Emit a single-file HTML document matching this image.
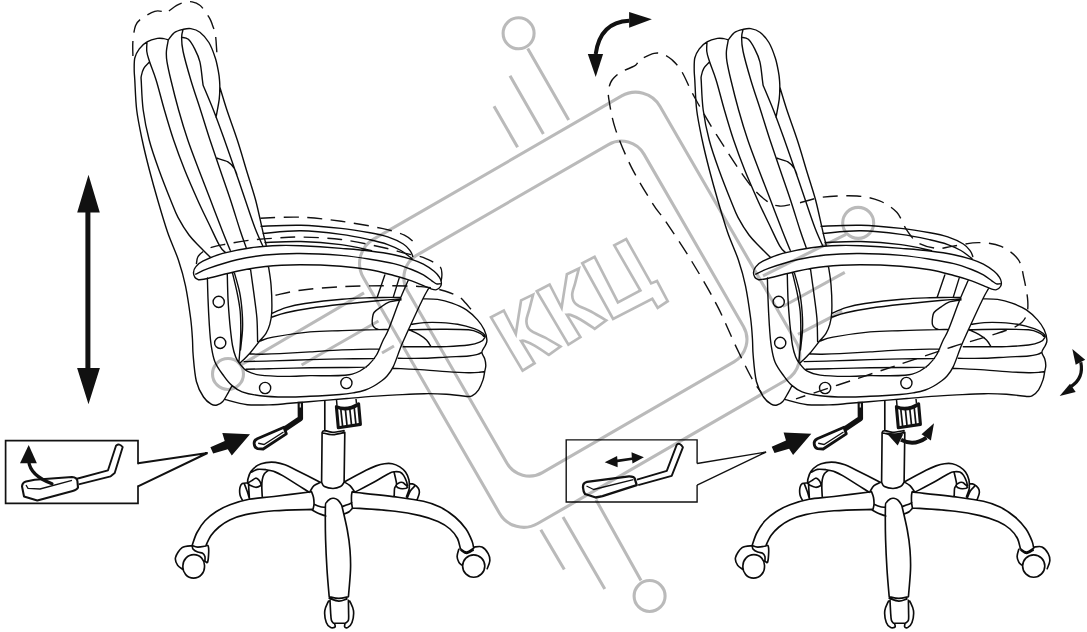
<!DOCTYPE html>
<html><head><meta charset="utf-8"><title>chair</title>
<style>
html,body{margin:0;padding:0;background:#fff;}
body{width:1087px;height:632px;overflow:hidden;font-family:"Liberation Sans",sans-serif;}
svg{display:block;}
</style></head><body>
<svg width="1087" height="632" viewBox="0 0 1087 632">
<rect width="1087" height="632" fill="#fff"/>
<defs><g id="chair">
<path d="M168.3 39.9C167.6 39.7 165.6 38.9 163.8 38.6C162 38.4 160.2 37.9 157.4 38.4C154.6 38.9 150 40.1 147 41.9C144 43.6 141.3 46.2 139.3 48.9C137.3 51.6 135.7 54.5 134.8 58C134 61.5 134.2 66.3 134.2 70C134.2 73.7 134.4 73.3 134.8 80C135.2 86.7 135.5 100 136.7 110C137.9 120 140.1 130 142.2 140C144.3 150 146.8 160 149.4 170C152 180 154.7 189.7 157.7 200C160.7 210.3 164.1 222 167.5 232C170.9 242 175.4 251 178.4 260C181.4 269 183.5 276.1 185.5 285.8C187.5 295.5 189.4 309 190.6 318C191.8 327 192.1 333.7 192.5 340C192.9 346.3 192.5 348.9 193.2 355.8C193.8 362.7 194.7 374.6 196.4 381.5C198.1 388.4 201 393.2 203.5 397C206 400.8 208.9 402.8 211.2 404.1C213.4 405.4 215.1 405.4 217 405C218.9 404.6 221 403.5 222.8 401.5C224.6 399.5 226.5 395.7 228 393.1C229.5 390.5 231.2 387.2 231.8 386M149.6 61.8C148.6 62.9 145.2 65.9 143.8 68.3C142.4 70.7 141.7 73.7 141.3 76C140.9 78.3 141 76.3 141.3 82C141.6 87.7 141.9 100.3 143.2 110C144.5 119.7 146.6 130 149.2 140C151.8 150 155.4 160 159 170C162.6 180 167.4 192.1 170.6 200C173.8 207.9 174.9 211.6 178 217.4C181.1 223.2 185.3 230.1 189 235C192.7 239.9 196.4 243.2 200 247C203.6 250.8 208.8 255.8 210.5 257.5M147 41.9C147 43.5 146.4 48.2 146.8 51.5C147.2 54.8 148.1 57 149.6 61.8C151.1 66.5 153.6 72 156.1 80C158.6 88 161.5 100 164.4 110C167.3 120 170.2 130 173.6 140C177 150 180.7 160 184.7 170C188.7 180 193.5 190.8 197.6 200C201.7 209.2 205.8 217.3 209.5 225C213.2 232.7 217 241.3 219.7 245.9C222.3 250.5 224.4 251.4 225.4 252.5M168.3 39.9C168 41.8 166.6 47.9 166.4 51.5C166.2 55.1 166.2 57 167 61.8C167.8 66.5 169 72 170.9 80C172.8 88 175.8 100 178.6 110C181.4 120 184.4 130 187.8 140C191.2 150 195.1 160 198.9 170C202.7 180 206.7 190 210.5 200C214.3 210 218.7 221.6 222 230C225.3 238.4 228.8 246.9 230.2 250.3M183.1 29.4C182.8 30.7 181.6 33.7 181.6 37.4C181.6 41.1 181.6 44.4 183.1 51.5C184.6 58.6 187.9 70.2 190.8 80C193.7 89.8 197.3 100 200.5 110C203.7 120 206.7 130 210 140C213.3 150 216.8 160 220.2 170C223.6 180 227.2 190 230.5 200C233.8 210 237.4 222.1 240 230C242.6 237.9 245.2 244.8 246.2 247.7M181.6 37.4C182.7 37.7 186.1 37.4 188.3 39.3C190.5 41.2 192.8 45.1 194.7 48.9C196.6 52.6 198.6 56.6 199.9 61.8C201.2 67 201.9 76.1 202.4 80C202.9 83.9 203 84.3 203.1 85.2M203.1 85.2C204.8 89.3 209.8 100.9 213.4 110C217 119.1 220.9 130 224.5 140C228.1 150 231.5 160 235 170C238.5 180 242 190.3 245.3 200C248.6 209.7 252.1 220.4 255 228C257.9 235.6 261.3 242.7 262.6 245.6M168.3 39.9C169.3 38.7 171.6 34.5 174.1 32.8C176.6 31 180.3 30.1 183.1 29.4C185.9 28.7 188 28.1 190.8 28.6C193.6 29.1 196.9 29.9 199.9 32.2C202.9 34.5 206.3 38.2 208.9 42.5C211.5 46.8 213.7 53.1 215.3 58C216.9 62.9 217.8 68.4 218.5 72.1C219.2 75.8 219.3 77.4 219.5 80C219.7 82.6 219.9 84.5 219.8 87.7C219.8 90.9 219.8 94.3 219.2 99.3C218.6 104.2 216.5 114.4 216 117.4M219.8 87C221 90.8 224 101.2 226.9 110C229.8 118.8 234.1 130 237.3 140C240.6 150 243.4 160 246.4 170C249.4 180 252.8 189.7 255.6 200C258.3 210.3 261.1 224.3 262.9 231.8C264.6 239.3 265.6 242.7 266.1 244.9M216.3 158C218.2 158.7 224.9 160.2 227.9 161.9C230.9 163.6 232.8 166.2 234.3 168.3C235.8 170.5 236.5 173.7 236.9 174.8M207.4 278C207.5 281.4 207.7 290.9 208 298.6C208.3 306.3 208.8 316.6 209.3 324.4C209.8 332.2 210.2 339.2 211.2 345.5C212.2 351.8 212.9 357.1 215.1 362.2C217.2 367.3 221.3 372.5 224.1 376.4C226.9 380.3 228.8 382.8 231.8 385.4C234.8 388 237.4 390.1 242.1 391.8C246.8 393.5 252.9 394.8 260.2 395.7C267.5 396.6 277.6 396.9 285.9 397C294.2 397.1 301 396.7 310 396.3C319 395.9 332.5 395.1 340 394.5C347.5 393.9 350.8 393.2 355 392.5C359.2 391.8 362.3 391 365.3 390C368.3 389 370.6 387.8 373 386.5C375.4 385.2 377.7 383.7 380 382C382.3 380.3 384.4 379.1 386.6 376.5C388.8 373.9 390.9 371.6 393.3 366.6C395.7 361.6 398.5 352.7 401 346.6C403.5 340.5 404.8 337.8 408.3 330C411.9 322.2 419 306.8 422.3 300C425.6 293.2 427.2 290.9 428.2 289.1M227.3 274.2C227.4 278.3 227.6 290.2 228 298.6C228.4 307 229.2 316.6 229.9 324.4C230.7 332.2 231.5 340.1 232.5 345.5C233.5 350.9 234.5 354 235.7 357C236.9 360 237.7 361.1 239.6 363.5C241.5 365.9 243.9 369.3 247.3 371.2C250.7 373.1 253.8 374.2 260.2 375.1C266.6 376 277.6 376.3 285.9 376.4C294.2 376.5 302.6 375.7 310 375.6C317.4 375.5 324.2 375.9 330 375.8C335.8 375.8 341.3 375.6 345 375.3C348.7 375 349.7 374.9 352.2 374.2C354.7 373.5 357.3 372.5 360 371C362.7 369.5 365.6 367.8 368.4 365.1C371.1 362.4 374.1 359.1 376.5 355C378.9 350.9 381 344.7 383 340.5C385 336.3 385.5 336.7 388.3 330C391.1 323.3 396.3 308.5 399.6 300.3C402.9 292.1 406.6 284.1 408 280.8M232.5 272.9C233.2 276.1 235.7 285.8 237 292.2C238.3 298.6 239.6 305.1 240.2 311.5C240.8 317.9 240.8 325.1 240.8 330.8C240.8 336.5 240.5 340.3 240.2 345.5C239.9 350.7 239.1 359.4 238.9 362.2M234.4 272.9C235.3 276.1 238.3 285.8 239.6 292.2C240.9 298.6 241.6 305.2 242.1 311.5C242.6 317.8 242.8 323.6 242.5 330C242.2 336.4 240.8 346.7 240.5 350M250.5 269C251 272.9 252.6 284 253.7 292.2C254.8 300.4 256.2 309.8 256.9 318C257.5 326.2 257.5 337.7 257.6 341.6M268.5 266.4C268.9 269.6 270.6 278.3 271.1 285.8C271.7 293.3 272 305.1 271.8 311.5C271.6 317.9 270.8 320.8 269.8 324.4C268.8 328 267.6 330.8 266 333.4C264.4 336 262.9 337 260.2 340.3C257.5 343.6 253.3 349.3 249.9 353.2C246.5 357.1 241.3 361.8 239.6 363.5M271.8 313.5C274.1 312.5 280.4 309.4 285.9 307.7C291.4 306 295.6 304.9 305 303.5C314.4 302.1 331.2 300.1 342 299.2C352.8 298.2 360.2 298.1 370 297.8C379.8 297.5 395.8 297.2 401 297.1M271.1 317.3C273.6 316.6 279.4 314.3 285.9 312.8C292.4 311.3 300.6 309.7 310 308.3C319.4 306.9 330.3 305.6 342 304.3C353.7 303 370.2 301.4 380 300.5C389.8 299.6 397.5 299.1 401 298.8M401 299.9C399 300.3 392.4 300.8 388.9 302.1C385.4 303.4 382.5 306 380 307.7C377.5 309.4 375.2 310.8 374 312.5C372.8 314.2 372.8 316 372.5 318C372.2 320 372.1 322.9 372.5 324.6C372.9 326.3 374 327.2 375 328C376 328.8 377.9 329.3 378.5 329.6M260.2 341C262.3 340.4 264.7 338.6 273 337.1C281.3 335.6 298.5 333 310 331.9C321.5 330.8 330.6 331 342 330.6C353.4 330.2 370.8 329.8 378.5 329.6C386.2 329.4 386.8 329.6 388.5 329.6M250 354C252 354 257 354.3 262 354.2C267 354.1 272 354 280 353.6C288 353.2 299.7 352.5 310 351.9C320.3 351.3 330.4 350.4 342 349.9C353.6 349.4 373.3 349.1 379.6 348.9M244.1 361.6C248.9 361.5 262 361.2 273 360.9C284 360.6 298.5 359.9 310 359.6C321.5 359.3 331.2 359.1 342 358.9C352.8 358.7 369.1 358.7 374.5 358.6M246 369.3C250.5 369.2 262.3 368.9 273 368.6C283.7 368.4 298.5 368 310 367.8C321.5 367.6 332.6 367.6 342 367.5C351.4 367.4 362.3 367.2 366.4 367.1M423.8 298.8C426.1 298.9 432.9 298.7 437.6 299.4C442.3 300.1 447.2 301.4 452 303.2C456.8 304.9 462.1 307.1 466.4 309.9C470.6 312.7 474.5 316.6 477.5 319.9C480.5 323.2 482.6 326.4 484.2 329.8C485.8 333.2 486.7 337.4 486.9 340C487.1 342.6 486.1 343.5 485.3 345.5C484.5 347.5 482 350 481.9 352.2C481.8 354.4 484 356.6 484.7 358.8C485.4 361 485.8 363.4 485.8 365.5C485.8 367.6 485.2 369.2 484.7 371.6C484.2 374 484 376.9 483 379.9C482 382.9 480.4 387.1 478.6 389.8C476.8 392.5 473.9 394.8 472 395.9C470.1 397 468.2 396.4 467.5 396.5M411.6 324.3C413.7 324 419.4 322.9 424.3 322.6C429.2 322.3 435.3 322.3 440.9 322.6C446.4 322.9 452.1 323.3 457.6 324.3C463.2 325.3 470 327.2 474.2 328.7C478.4 330.2 481.2 331.8 483 333.3C484.8 334.8 485.2 336.3 484.7 337.8C484.1 339.3 482.4 341 479.7 342.2C477 343.4 474.1 344.3 468.6 345C463.1 345.7 452.8 346.3 446.5 346.6C440.2 346.9 438.2 346.8 431 346.8C423.8 346.8 407.9 346.8 403.3 346.8M409.4 329.8C414.6 329.7 431 329.3 440.9 329.3C450.8 329.3 462.1 329.2 468.6 329.8C475.1 330.4 477.1 332.1 479.7 333.2C482.3 334.3 483.3 335.9 484 336.5M409.4 330C411 330.7 415.9 332.7 418.8 334.4C421.7 336.1 424.5 338 426.5 340C428.5 342 430.2 345.5 431 346.6M398.3 358.3C402.6 358.3 416.3 358.5 424.3 358.3C432.3 358.1 439.1 357.5 446.5 357.1C453.9 356.7 463.4 356.4 468.6 356C473.8 355.6 475.3 355 477.5 354.4C479.7 353.8 481.2 352.6 481.9 352.2M392.7 368.2C398 368.5 415.3 369.3 424.3 369.9C433.3 370.5 439.1 371.1 446.5 371.6C453.9 372.1 463.1 372.6 468.6 372.7C474.1 372.8 477 372.5 479.7 372.3C482.4 372.1 483.9 371.7 484.7 371.6M225.4 399.6C229.1 400.5 239.4 403.9 247.3 404.7C255.2 405.5 265.9 404.9 273 404.7C280.1 404.5 282.4 403.9 290 403.3C297.6 402.7 309 401.7 318.5 400.9C328 400.1 336.8 399.3 347 398.5C357.2 397.7 370.8 396.5 380 395.9C389.2 395.2 394.8 395 402.2 394.6C409.6 394.2 416.9 393.8 424.3 393.7C431.7 393.6 439.3 393.8 446.5 394.3C453.7 394.8 464 396.1 467.5 396.5M198.5 279.8C197.9 279.4 195.8 278.7 195 277.5C194.2 276.3 193.4 274.4 193.5 272.6C193.6 270.8 194.1 268.8 195.7 266.9C197.2 265 198.3 263.4 202.8 261.2C207.3 258.9 214.6 255.7 222.7 253.4C230.8 251.2 241.7 249 251.2 247.7C260.7 246.4 271.3 245.8 279.6 245.5C287.9 245.2 290.6 245.3 300.8 245.8C311 246.3 329.5 247.5 341 248.4C352.5 249.3 361.2 249.9 370 251C378.8 252.1 386.9 253.3 393.8 254.7C400.7 256.1 406.7 257.8 411.6 259.4C416.5 261 419.6 262.2 423.4 264.2C427.1 266.2 431.4 269.1 434.1 271.3C436.8 273.5 438.3 275.5 439.5 277.3C440.7 279.1 441.1 280.5 441.3 282C441.5 283.5 441.3 285.2 440.5 286.5C439.7 287.8 437.9 289.3 436.5 289.7C435.1 290.1 434 289.8 431.8 289.1C429.6 288.4 426.8 287 423.4 285.6C420 284.2 416.5 282.5 411.6 280.8C406.7 279.1 400.7 277.3 393.8 275.5C386.9 273.7 378.8 271.4 370 269.8C361.2 268.2 352.7 267 341 266.2C329.3 265.4 312.6 264.8 300 264.8C287.4 264.9 275.9 265.4 265.4 266.5C254.9 267.6 246.4 269.2 236.9 271.2C227.4 273.2 214.9 276.9 208.5 278.3C202.1 279.7 200.2 279.6 198.5 279.8M195.7 274.1C197.8 273.2 201.6 270.8 208.5 268.4C215.4 266 227.4 262 236.9 259.8C246.4 257.6 254.9 256.1 265.4 255C275.9 253.9 287.4 253.4 300 253.5C312.6 253.6 329.3 254.5 341 255.4C352.7 256.4 361.2 257.8 370 259.2C378.8 260.6 386.9 261.9 393.8 263.6C400.7 265.3 406.7 267.6 411.6 269.5C416.5 271.4 420 273 423.4 274.9C426.8 276.8 429.6 279.3 431.8 280.8C434 282.3 435.1 283.3 436.5 283.8C437.9 284.3 439.4 283.8 440 283.8M261 226.3C267.6 226.1 287.5 225 300.8 225.3C314.1 225.7 329.5 227.2 341 228.4C352.5 229.6 362.2 231.3 370 232.7C377.8 234.1 382.2 235 387.8 236.9C393.4 238.8 399.5 241.6 403.3 244C407.1 246.4 408.8 249 410.4 251.1C412 253.2 412.4 255.6 412.8 256.5M263 233.4C269.3 233 287.8 230.6 300.8 230.8C313.8 231 329.5 232.9 341 234.4C352.5 235.9 362.2 238.1 370 239.8C377.8 241.5 382.7 242.8 387.8 244.6C392.9 246.4 397.3 248.5 400.9 250.5C404.5 252.5 407.3 255.2 409.2 256.5C411.1 257.8 411.5 258.2 412 258.5M265 242.5C271 242.3 288.1 241.2 300.8 241.5C313.5 241.8 329.2 243.1 341 244.6C352.8 246.1 366.6 249.6 371.7 250.6M384.8 274.9L377.1 297.4M399.1 278.4L393.2 297.4M213.1 301.9a5.6 5.6 0 1 0 11.2 0a5.6 5.6 0 1 0 -11.2 0M214.6 342.9a5.6 5.6 0 1 0 11.2 0a5.6 5.6 0 1 0 -11.2 0M259.5 388a5.6 5.6 0 1 0 11.2 0a5.6 5.6 0 1 0 -11.2 0M340.8 383a5.6 5.6 0 1 0 11.2 0a5.6 5.6 0 1 0 -11.2 0" fill="none" stroke="#0c0c0c" stroke-width="1.4" stroke-linecap="round" stroke-linejoin="round"/>
<path d="M322.1 433C322.2 432.7 322.6 431.6 323 431.2C323.4 430.8 324.5 430.5 324.8 430.4M324.8 430.4C326.1 430.7 329.5 432.3 332.7 432.3C335.9 432.3 342.1 430.9 344 430.6M322.3 432.7C324 433 328.9 434.8 332.7 434.7C336.4 434.6 342.8 432.8 344.8 432.4M321.6 482.3C322.1 483 322.5 485.6 324.4 486.6C326.3 487.6 330.3 488.5 333 488.5C335.7 488.5 338.6 487.6 340.5 486.6C342.4 485.6 343.5 483 344.1 482.3M320.6 482.3C319.5 482.9 315.7 484.2 314 485.7C312.3 487.2 310.8 490.4 310.2 491.3M344.1 481.9C345.1 482.5 348.3 484.1 350 485.7C351.7 487.3 353.6 490.4 354.3 491.3M311.6 491.8C311.9 492.8 313.1 495.4 313.5 497.5C313.9 499.6 314.1 502.2 314 504.2C313.9 506.2 313.2 508.5 313 509.4M314 504.2C314.9 504.6 317.8 505.9 319.7 506.5C321.6 507.1 324.4 507.3 325.4 507.5M311.6 509.8C312.8 510.4 316.3 512.6 318.7 513.6C321.1 514.6 324.6 515.6 325.8 516M342.4 506.5C343.3 506.2 346.5 505.2 348.1 504.6C349.7 504 351.3 503 351.9 502.7M343.9 514.1C344.8 513.7 347.7 512.6 349.1 511.7C350.5 510.8 351.8 508.9 352.4 508.4M354.3 491.3C353.9 491.6 352.4 491.1 351.9 492.8C351.4 494.5 351.4 498.8 351.5 501.3C351.6 503.8 352.2 506.9 352.4 508M329.2 596.7C328.8 592.2 327.6 579 327 569.5C326.4 560 325.9 550.3 325.6 540C325.3 529.7 325.3 513.7 325.4 507.5C325.5 501.3 325.5 504.1 326.3 502.7C327.1 501.3 328.8 499.6 330.1 498.9C331.4 498.2 332.6 498.1 333.9 498.3C335.2 498.5 336.5 498.9 337.7 499.9C338.9 500.9 340.2 502.8 341 504.2C341.8 505.6 341.3 503.7 342.4 508C343.4 512.3 346 523 347.3 530C348.6 537 349.5 543.3 350 550C350.5 556.7 350.8 562.2 350.5 570C350.2 577.8 348.8 592.2 348.4 596.7M329.2 596.7C330.8 597 335.6 598.4 338.8 598.4C342 598.4 346.8 597 348.4 596.7M329.2 598.2C330.8 598.7 335.9 601 338.8 601.1C341.8 601.2 345.5 599.3 346.9 598.9M330 600.4C330.1 602.3 330.4 608.7 330.6 612C330.8 615.3 330.9 618.4 331.4 620.3C331.9 622.2 333.2 622.7 333.6 623.2M345.4 623.2C345.9 622.7 347.9 622.2 348.4 620.3C348.9 618.4 348.6 615.3 348.6 612C348.6 608.7 348.4 602.3 348.4 600.4M328.5 601.1C327.9 602.7 325.2 607.1 324.8 610.7C324.4 614.3 325.3 619.7 326.3 622.5C327.3 625.3 329.2 626.9 330.7 627.6C332.2 628.3 334.5 627.6 335.1 626.9C335.7 626.2 334.6 624.1 334.5 623.5M349.8 601.1C350.4 602.7 353.1 607.1 353.5 610.7C353.9 614.3 353 619.7 352 622.5C351 625.3 348.8 626.9 347.6 627.6C346.4 628.3 345.1 627.6 344.7 626.9C344.3 626.2 344.9 624.1 345 623.5M311.6 491.8C305.3 492.6 284.4 495.2 274 496.5C263.6 497.8 256.3 497.9 249 499.3C241.7 500.7 235.5 502.7 230 504.8C224.5 506.9 220.2 509.1 216 511.8C211.8 514.5 208.2 517.3 205 520.8C201.8 524.2 199.2 528.4 197 532.5C194.8 536.6 192.9 543.3 192.1 545.5M312.1 509.4C305.8 509.6 285.1 509.9 274 510.8C262.9 511.7 252.9 513.1 245.5 514.6C238.1 516.1 234.2 517.9 229.8 520C225.4 522.1 222.1 524.4 219 527C215.9 529.6 213.2 532.4 211 535.5C208.8 538.6 206.8 543.8 206 545.5M192.1 545.5C193 545.8 195.4 547 197.7 547.1C200 547.2 204.6 546.2 206 546M206 545.5C206.4 545.6 207.8 544.9 208.2 546C208.6 547.1 208.8 549.4 208.7 552.1C208.6 554.8 208.2 560.6 207.6 562.1C207 563.6 205.3 561.2 204.9 561M192.1 545.5C192.3 546.1 192.3 548.2 193.2 549.3C194.1 550.4 196.1 551.5 197.7 552.1C199.3 552.8 201.4 552.5 202.6 553.2C203.8 553.9 204.5 555.2 204.9 556.5C205.3 557.8 204.9 560.2 204.9 561M192.1 545.7C190.4 546 184.9 545.7 182.1 547.7C179.3 549.7 176.2 554.7 175.5 557.6C174.8 560.5 176.5 563.5 177.7 565.4C178.9 567.3 181.9 568.6 182.7 569.3M320.1 482.3C316.2 480.3 302.2 473.1 296.4 470.2C290.5 467.3 288.5 466.1 285 464.8C281.5 463.5 278.6 462.8 275.5 462.4C272.4 462 269.1 462.1 266.1 462.6C263.1 463.1 260 463.9 257.5 465.4C255 466.9 252.5 469.4 250.9 471.6C249.3 473.8 248.6 476.7 248 478.7C247.4 480.7 247.7 482.7 247.6 483.5M309.2 492.3C304.9 489.6 289 479.4 283.1 475.9C277.2 472.4 276.4 472.3 273.6 471.3C270.8 470.3 268.8 470 266.1 469.7C263.4 469.4 259.9 469 257.5 469.4C255.1 469.8 252.8 471.7 251.8 472.1M268 470.7C267.4 471.2 265.1 472.5 264.2 474C263.2 475.5 262.7 477.6 262.3 479.7C261.9 481.8 261.8 483.3 261.8 486.3C261.8 489.3 262.2 495.8 262.3 497.7M248.5 482.5C249.1 482.2 250.6 481.3 251.8 480.6C253 479.9 254.5 478.4 255.6 478.2C256.7 478 257.6 478.8 258.5 479.7C259.4 480.6 260.5 482.5 260.8 483.5C261.1 484.5 261.3 485.2 260.4 485.8C259.5 486.4 257.3 487.4 255.6 487.3C253.9 487.2 251.6 486 250.4 485.4C249.2 484.8 248.8 483.8 248.5 483.5M247.6 483C246.7 483.1 243.6 482.8 242.3 483.5C241 484.2 240.4 485.4 240 487.3C239.6 489.2 239.6 492.7 240 494.8C240.4 496.9 241.9 499.2 242.3 500.1M244.2 483.5C244.7 484.8 246.2 488.5 247.1 491C248 493.5 249 497.3 249.4 498.6M351.9 492C359.6 492.9 386.1 495.6 398 497.2C409.9 498.8 416.5 499.7 423.5 501.3C430.5 502.9 434.8 504.4 440 507C445.2 509.6 450.7 513.3 455 517C459.3 520.7 463.2 525 466 529C468.8 533 470.7 537.8 472 541C473.3 544.2 473.4 547 473.7 548.2M352.9 508C359.9 508.5 383.8 509.9 395 511.2C406.2 512.5 412.8 513.9 420 515.6C427.2 517.3 433 519.3 438 521.5C443 523.7 446.8 526.2 450 529C453.2 531.8 455.8 535.2 457.5 538.5C459.2 541.8 459.9 547.1 460.4 548.8M460.4 548.8C461.4 549.3 464.3 552.2 466.5 552.1C468.7 552 472.5 548.9 473.7 548.2M461 550.4C461.9 550.9 464.6 553.5 466.6 553.5C468.6 553.5 472.1 550.8 473.2 550.2M473.7 547.1C475.1 547.1 479.6 545.8 482 546.9C484.4 548 486.9 551.2 488.2 553.6C489.5 556 490 558.5 489.8 561C489.6 563.5 487.6 567.4 487.2 568.7M458.8 549.3C458.5 550.5 457.1 554.4 457.1 556.5C457.1 558.6 458.1 560.7 458.8 562.1C459.5 563.5 461.1 564.4 461.5 564.9M344.3 481.9C347.9 480 360.7 473 366 470.3C371.3 467.6 372.9 467 376 465.9C379.1 464.8 381.8 464.1 384.5 463.7C387.2 463.3 389.8 463.2 392.3 463.7C394.9 464.2 397.6 465.5 399.8 466.9C402 468.3 404 470 405.5 472.1C407 474.2 408.3 477.3 408.9 479.7C409.5 482.1 409.3 484.6 409.3 486.3C409.3 488 409.4 488.4 408.9 490.1C408.4 491.8 406.9 495.6 406.5 496.7M355.7 491.8C359.1 490 370.4 484.1 376 481C381.6 477.9 385.9 474.9 389 473.4C392.1 471.8 392.7 471.9 394.5 471.7C396.3 471.5 398.3 471.5 399.8 472.1C401.3 472.7 402.5 473.8 403.6 475.4C404.7 477 405.9 479.9 406.5 481.6C407.1 483.3 407.2 484.8 407.4 485.4M394.2 472.6C394.4 473.6 395.2 476.7 395.6 478.7C396 480.7 396.7 482.8 396.5 484.4C396.3 486 395 486.3 394.6 488.2C394.2 490.1 394.3 494.5 394.2 495.8M396.5 484.4C397.1 484.1 398.8 482.8 399.8 482.5C400.8 482.2 401.8 482.2 402.7 482.5C403.6 482.8 404.3 483.6 405.1 484.4C405.9 485.2 407.8 486.6 407.4 487.3C407 488 404.3 488.6 402.7 488.7C401.1 488.8 399.1 488.2 398 487.7C396.9 487.2 396.3 485.9 396 485.5M409.3 483.5C410.1 483.6 412.6 483.6 414.1 484.4C415.6 485.2 417.4 486.8 418.3 488.2C419.2 489.6 419.5 491.2 419.3 493C419.1 494.8 417.7 498.1 417.4 499.1M415 485.8C414.2 486.7 411.6 489 410.3 491C409 493 407.9 496.6 407.4 497.7M324.8 401L324.8 431M322.1 432.5L321.6 482.3M344.8 432.5L344.1 482.3M333.6 623.2L345.4 623.2M182.9 566.4a10.8 11.1 15 1 0 21.6 0a10.8 11.1 15 1 0 -21.6 0M248.5 483.5L249.4 498.6M462.6 566a11.1 11.2 0 1 0 22.2 0a11.1 11.2 0 1 0 -22.2 0" fill="none" stroke="#0c0c0c" stroke-width="1.65" stroke-linecap="round" stroke-linejoin="round"/>
<path d="M336.5 399.5L337 405.7M356 399L356.5 403.3" fill="none" stroke="#111" stroke-width="1.5"/>
<path d="M336.4 406.6Q347 411 358.6 403.8L360.4 424.4L338.3 427.7Z" fill="#fff" stroke="#111" stroke-width="3.1" stroke-linejoin="round"/>
<path d="M336.8 407.5Q347 412.2 358.4 405" fill="none" stroke="#111" stroke-width="2.4"/>
<path d="M340.8 409.2L342.7 427" stroke="#111" stroke-width="1.7" fill="none"/>
<path d="M345.3 408.7L347.1 426.4" stroke="#111" stroke-width="1.7" fill="none"/>
<path d="M349.7 408.1L351.6 425.7" stroke="#111" stroke-width="1.7" fill="none"/>
<path d="M354.2 407.6L356 425.1" stroke="#111" stroke-width="1.7" fill="none"/>
<path d="M300.3 401.8L300.4 418.5L284.5 429.3" fill="none" stroke="#111" stroke-width="5.4" stroke-linejoin="round"/>
<path d="M300.3 403.6L300.3 407.6" fill="none" stroke="#fff" stroke-width="1.1"/>
<path d="M284 427.2L257.3 438.7Q253.6 440.6 254.2 444Q254.6 447.8 257.5 448.6L263.2 449L286.3 433.8Z" fill="#fff" stroke="#111" stroke-width="2.8" stroke-linejoin="round"/>
<path d="M258.2 443.2L264 444.5L283.5 432" fill="none" stroke="#111" stroke-width="1.4"/>
</g></defs>
<use href="#chair"/>
<use href="#chair" x="560"/>
<path d="M210.4 447.3L224.7 441L222.3 433.1L250 434.2L231.8 455.6L227.8 449.3L213.2 453.6Z" fill="#111"/>
<path d="M210.4 447.3L224.7 441L222.3 433.1L250 434.2L231.8 455.6L227.8 449.3L213.2 453.6Z" fill="#111" transform="translate(561.3 -0.5)"/>
<path d="M132.9 56C132.9 53.5 132.5 46.2 132.9 41.2C133.3 36.2 134.1 29.6 135.5 25.8C136.9 22.1 138.1 21.1 141.3 18.7C144.5 16.3 151.1 12.5 154.8 11.3C158.6 10.2 161.9 11.6 163.8 11.8C165.7 12 164.2 13.7 166.4 12.6C168.6 11.5 173.7 7.1 176.7 5.4C179.7 3.7 181.8 2.9 184.4 2.3C187 1.7 189.5 1.4 192.1 1.9C194.7 2.4 197.8 3.6 199.9 5.2C202.1 6.8 203.3 9.2 205 11.6C206.7 13.9 208.9 16.9 210.2 19.3C211.5 21.7 211.8 23.3 212.7 25.8C213.5 28.3 214.7 30.2 215.3 34.1C216 38 216.3 44.5 216.6 48.9C216.9 53.3 217.1 58.6 217.2 60.5M260.3 218.2C267.1 218 287.3 216.7 300.8 217.2C314.3 217.7 327.8 219.4 341.3 221.3C354.8 223.2 371.3 226.1 381.8 228.4C392.3 230.7 398.8 232.5 404.4 235.1C410 237.7 413.8 242.5 415.7 244M196.4 264.1C196.6 262.9 196.6 259.1 197.8 257C199 254.9 201.2 252.9 203.5 251.3C205.8 249.7 207.6 248.5 211.3 247.3C215 246.1 219.1 245.4 225.5 244.2C231.9 243 241.7 241.2 249.8 240.2C257.9 239.2 265.6 238.7 274 238.2C282.4 237.7 288.8 236.8 300 237C311.2 237.2 327.4 237.8 341 239.5C354.6 241.2 371.4 245 381.8 247.2C392.2 249.4 397.4 251.4 403.3 252.9C409.2 254.4 413.6 254.9 417.5 255.9C421.4 256.9 422.7 257.1 426.4 258.8C430.1 260.5 436.9 263.4 439.5 266C442.1 268.6 441.7 271.4 441.9 274.3C442.1 277.2 440.9 281.7 440.7 283.2M275.5 295.2C279.7 294.4 289.8 291.6 300.8 290.2C311.8 288.8 327.8 287.4 341.3 286.7C354.8 286 368.5 285.8 381.8 285.8C395.1 285.8 410.5 285.7 421 286.6C431.5 287.5 438.4 289.2 444.8 291C451.2 292.8 455.8 295.2 459.2 297.1C462.6 299.1 462.8 300 465.3 302.7C467.8 305.4 472.7 311.4 474.2 313.2" fill="none" stroke="#111" stroke-width="1.4" stroke-dasharray="15 8.5"/>
<path d="M88.5 174.8L99.8 212.6L90.4 212.6L90.4 368.1L99.9 368.1L88.5 404.2L77.1 368.1L85.4 368.1L85.4 212.6L77.2 212.6Z" fill="#111"/>
<path d="M138 463.3L138 440.6L5.6 440.6L5.6 503.3L138 503.3L138 486.4" fill="none" stroke="#111" stroke-width="1.7" stroke-linejoin="miter" stroke-linecap="square"/>
<path d="M138 463.3L207.5 453L138 486.4" fill="none" stroke="#111" stroke-width="2" stroke-linejoin="miter"/>
<path d="M76 479L108 470.3L116 445.7Q119.4 442.8 122.7 447L114.7 473L110.7 476.3L78.7 484.4" fill="none" stroke="#111" stroke-width="1.9" stroke-linejoin="round"/>
<path d="M22 486.4Q22.5 482.3 26 481.5L34.7 479.7L72 477Q77 477.5 77.4 481L78 487.7Q77 490 72.7 491L37.3 500.4L24 496.4Z" fill="#fff" stroke="#111" stroke-width="2.1" stroke-linejoin="round"/>
<path d="M26 485L28 488.4L40 489L72 480.4" fill="none" stroke="#111" stroke-width="1.3" stroke-linejoin="round"/>
<path d="M28.7 461Q30 475.5 52 483.7" fill="none" stroke="#111" stroke-width="3.2" stroke-linecap="round"/>
<path d="M28.7 445L36.9 463.3L20 463.3Z" fill="#111"/>
<path d="M790 204.6C788.3 204.8 783.7 206.6 779.9 206.1C776.1 205.6 772.5 205.3 767.2 201.4C761.9 197.5 756.6 193.5 748.2 182.4C739.8 171.3 725.6 149.1 716.6 134.9C707.6 120.7 700.2 107.5 694.4 97C688.6 86.5 685.5 77.8 681.8 71.6C678.1 65.4 675.1 62.7 672 59.8C668.9 56.9 666.3 55.4 663.3 54.3C660.3 53.2 658 52.5 654.1 53.4C650.2 54.3 642.6 58.1 639.8 59.8C636.9 61.5 638 62.5 637 63.6C636 64.7 636.7 64.8 634.1 66.2C631.5 67.6 624.6 70 621.3 71.9C618 73.8 616 75.8 614.2 77.6C612.4 79.4 611.5 80.5 610.6 82.6C609.7 84.7 608.9 87.1 608.6 90C608.3 92.9 607.9 93.7 609 100.1C610.1 106.5 611.6 117.5 615.3 128.6C619 139.7 624.8 153.9 631.1 166.6C637.4 179.3 647.7 195.7 653.3 204.6C658.9 213.5 658.3 210.6 664.7 220C671.1 229.4 682.9 246.9 691.6 261.1C700.3 275.3 709.6 291.1 717 305.4C724.4 319.6 730.2 334.5 736 346.6C741.8 358.7 747.5 370.6 751.7 378.2C755.9 385.8 759.7 390.1 761.3 392.5M800 202.8C803.8 201.9 813.3 198.2 822.8 197.1C832.3 196 847.5 195.4 857 196C866.5 196.6 873.1 198.2 879.7 200.9C886.3 203.6 892.4 207.6 896.8 212.3C901.2 217.1 902.8 224.4 906.3 229.4C909.8 234.4 912.6 239.4 917.7 242.6C922.8 245.8 931 247.7 936.7 248.3C942.4 248.9 945 247.4 951.9 246.4C958.8 245.4 970.2 242.6 978.4 242.6C986.6 242.6 994.6 243.6 1001.2 246.4C1007.9 249.2 1014.5 254.3 1018.3 259.7C1022.1 265.1 1022.4 271.7 1024 278.7C1025.6 285.7 1027.5 295.2 1027.8 301.5C1028.1 307.8 1027.8 312.6 1025.9 316.7C1024 320.8 1022.4 323 1016.4 326.2C1010.4 329.4 1000.5 332.2 989.8 335.7C979 339.2 967.7 341.9 951.9 347C936.1 352.1 913.9 359.7 894.9 366C875.9 372.3 854.5 379.5 838 385C821.5 390.5 803 396.5 796 398.8" fill="none" stroke="#111" stroke-width="1.4" stroke-dasharray="15 8.5"/>
<path d="M629.1 20.7Q600 22 595.7 54.1" fill="none" stroke="#111" stroke-width="4"/>
<path d="M651.9 19.2L629.1 12.1L629.1 27.8Z" fill="#111"/>
<path d="M595.7 76.9L587.8 54.1L603.1 54.1Z" fill="#111"/>
<path d="M1080.8 362.3Q1084 378 1071.3 386.3" fill="none" stroke="#111" stroke-width="3.2"/>
<path d="M1072.3 349L1085.2 359.7L1075.7 364.8Z" fill="#111"/>
<path d="M1059.7 396.1L1070 383.8L1075.7 392Z" fill="#111"/>
<path d="M901 439.8Q914 446.5 926.4 437.6" fill="none" stroke="#111" stroke-width="4"/>
<path d="M886 432.6L903.2 434.3L897.7 445.4Z" fill="#111"/>
<path d="M934 423.2L921.5 434.3L930.9 440.4Z" fill="#111"/>
<path d="M697.1 463.5L697.1 439.9L566.2 439.9L566.2 502L697.1 502L697.1 485.1" fill="none" stroke="#111" stroke-width="1.4"/>
<path d="M697.1 463.5L766.1 452L697.1 485.1" fill="none" stroke="#111" stroke-width="1.4"/>
<path d="M637 479.6L666.8 470.9L676.7 444.8Q680 442 682.9 447.3L671.7 475.9L638.2 485.1" fill="none" stroke="#111" stroke-width="1.9" stroke-linejoin="round"/>
<path d="M583 487.5Q582.6 482.8 587 481.8L629 476.3Q634 476.2 634.8 478.6L636.7 485.1L602.5 496.2L595.8 497.5L585 494Q583.4 492 583 487.5Z" fill="none" stroke="#111" stroke-width="2.3" stroke-linejoin="round"/>
<path d="M586.5 486L593.6 489.5L633.4 479.6" fill="none" stroke="#111" stroke-width="1.3" stroke-linejoin="round"/>
<path d="M604.7 462.2L617.1 456L617.4 459.6L631.8 457.6L631.5 452.3L643.9 457.3L632.5 463.5L632.1 460L617.6 462.2L617.6 467.2Z" fill="#111"/>
<g opacity="0.265"><g transform="translate(585.0 314.0) rotate(-30.0)" fill="none" stroke="#000" stroke-width="3.1">
<path d="M-145.7 -170.5H140.8A28 28 0 0 1 168.8 -142.5V129.8A28 28 0 0 1 140.8 157.8H-145.7A28 28 0 0 1 -173.7 129.8V-142.5A28 28 0 0 1 -145.7 -170.5Z"/>
<path d="M-116.2 -135H105A26 26 0 0 1 131 -109V90A26 26 0 0 1 105 116H-116.2A26 26 0 0 1 -142.2 90V-109A26 26 0 0 1 -116.2 -135Z"/>
</g>
<path d="M527.7 48.5L568.7 120.1M510 75.8L543.4 134M494 106.2L517.6 147.2M596 499.8L641 580.4M563 517L604.8 589M540.8 529.7L564.3 569.5M846 234.3L763 275.8M844.8 272.3L782.8 306.5M842.3 311.5L798 334.3M240.5 365.2L364 292.8M301.6 365L378.5 321M382 353L394 346" fill="none" stroke="#000" stroke-width="3.1"/>
<circle cx="518.6" cy="33.3" r="15.5" fill="none" stroke="#000" stroke-width="3.1"/>
<circle cx="649.6" cy="596" r="15.5" fill="none" stroke="#000" stroke-width="3.1"/>
<circle cx="858.2" cy="222.9" r="15.5" fill="none" stroke="#000" stroke-width="3.1"/>
<circle cx="228" cy="374" r="15.5" fill="none" stroke="#000" stroke-width="3.1"/>
<path d="M491 317.3L503.8 310.6L515.8 333.9C516.3 330.9 517.7 321.6 518.6 316C519.5 310.4 520.7 302.9 521.1 300.3L533.1 294.6C532.5 297 530.5 304.7 529.4 309.1C528.3 313.5 526.3 317.6 526.4 321.1C526.5 324.6 527 327.4 530.1 330.1C533.2 332.9 540.2 334.9 545.2 337.6C550.2 340.3 557.9 345 560.4 346.5L548.9 354.9C546.5 353.3 538.6 347.9 534.6 345.6C530.6 343.3 526.9 341.8 524.6 341C522.4 340.2 521.7 341 521.1 341L534.6 363.2L522.6 370.7Z" fill="none" stroke="#000" stroke-width="2.7" stroke-linejoin="miter"/>
<path d="M491 317.3L503.8 310.6L515.8 333.9C516.3 330.9 517.7 321.6 518.6 316C519.5 310.4 520.7 302.9 521.1 300.3L533.1 294.6C532.5 297 530.5 304.7 529.4 309.1C528.3 313.5 526.3 317.6 526.4 321.1C526.5 324.6 527 327.4 530.1 330.1C533.2 332.9 540.2 334.9 545.2 337.6C550.2 340.3 557.9 345 560.4 346.5L548.9 354.9C546.5 353.3 538.6 347.9 534.6 345.6C530.6 343.3 526.9 341.8 524.6 341C522.4 340.2 521.7 341 521.1 341L534.6 363.2L522.6 370.7Z" transform="translate(45.8 -26.1)" fill="none" stroke="#000" stroke-width="2.7" stroke-linejoin="miter"/>
<path d="M582.3 263.2L594.6 256.8L617.9 302.4L640.4 290.5L614.3 245.4L626.2 239L651.1 283.4L657 281L667.7 301.2L657.7 307.8L652.3 298.8L613.1 319Z" fill="none" stroke="#000" stroke-width="2.7" stroke-linejoin="miter"/></g>
</svg>
</body></html>
